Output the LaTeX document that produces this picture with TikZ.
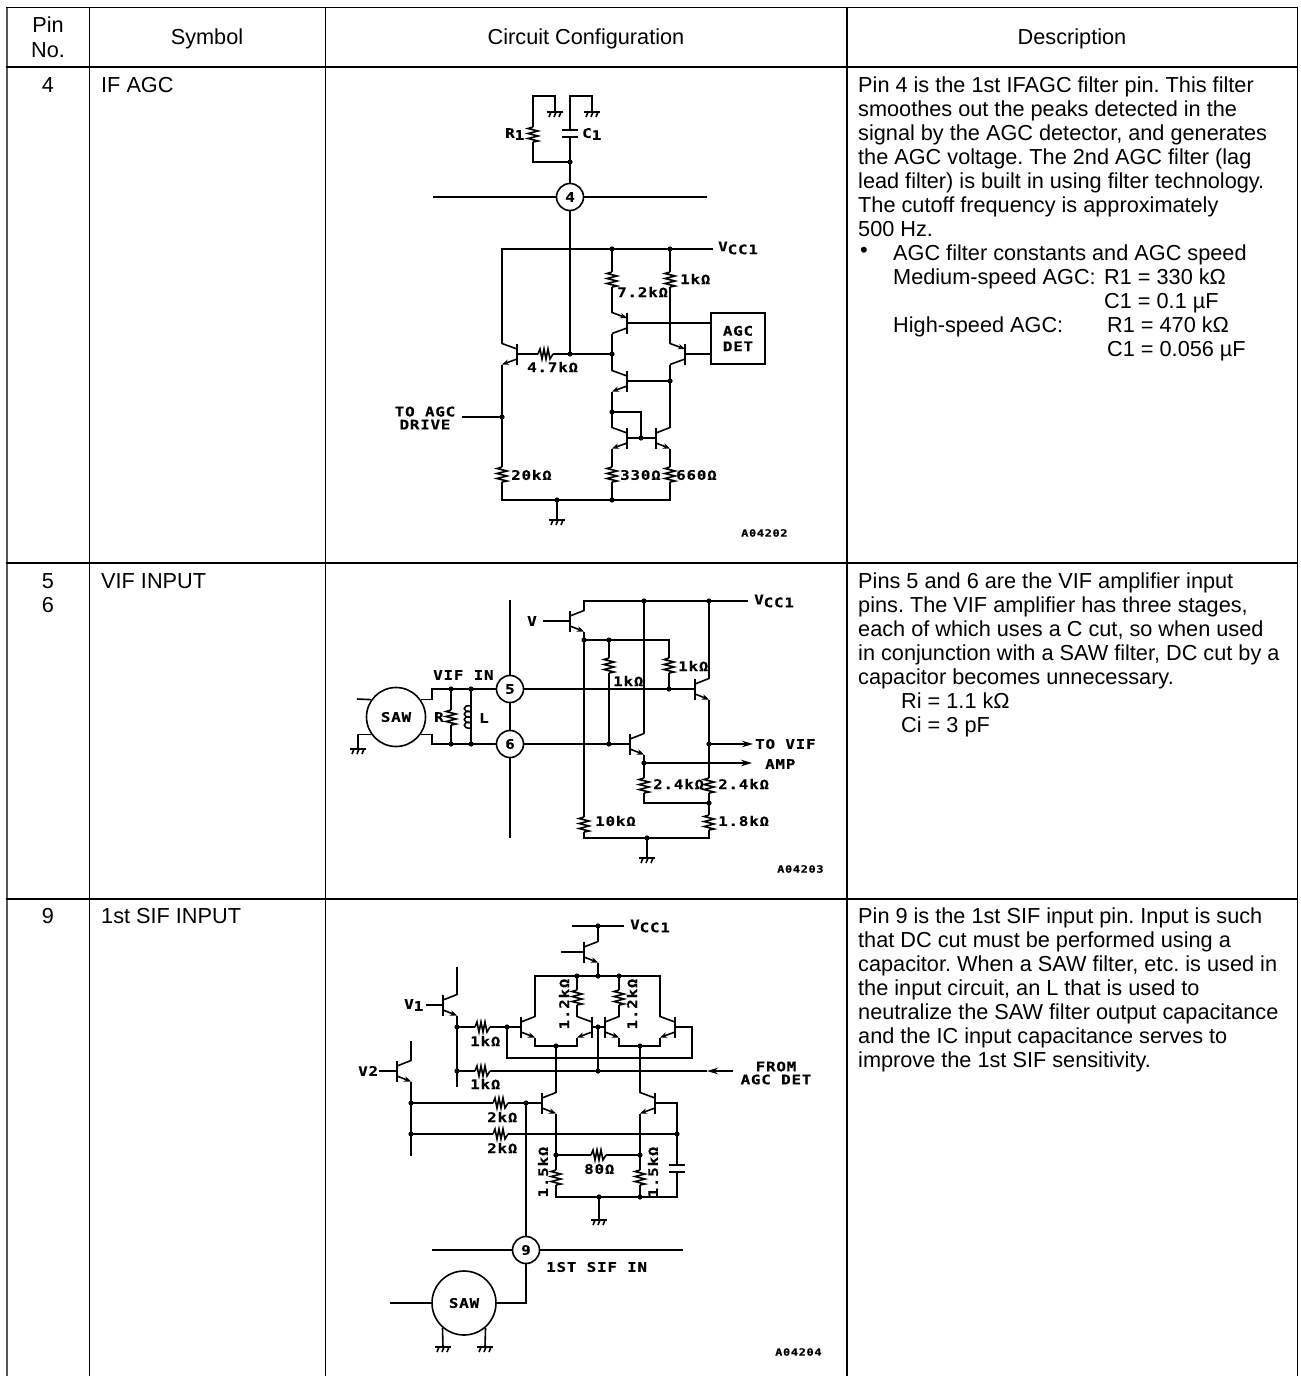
\documentclass[tikz,border=0pt]{standalone}
\usepackage{fontspec}
\usetikzlibrary{arrows.meta}
\setmainfont{Liberation Sans}
\newfontfamily\cktfont[FakeStretch=1.2,LetterSpace=6,FakeBold=0.4]{DejaVu Sans Mono}

\tikzset{
  wire/.style={line width=1.6pt},
  bigtip/.style={>={Stealth[length=11pt,width=6.5pt]}},
  cell/.style={font=\fontsize{21.7}{24}\selectfont,inner sep=0,anchor=base west},
  para/.style={font=\fontsize{21.7}{24}\selectfont,inner sep=0,anchor=north west,align=left},
  head/.style={cell,anchor=base},
  lbl/.style={font=\cktfont\bfseries\fontsize{13.2}{13.5}\selectfont,inner sep=0,anchor=west},
  tag/.style={font=\cktfont\bfseries\fontsize{10}{10}\selectfont,inner sep=0,anchor=west},
  pin/.style={circle,draw,line width=1.6pt,minimum size=27pt,inner sep=0,font=\cktfont\bfseries\fontsize{13.2}{13.5}\selectfont},
  saw/.style={circle,draw,line width=1.6pt,inner sep=0,font=\cktfont\bfseries\fontsize{13.2}{13.5}\selectfont},
  % transistors: origin is the middle of the base bar
  npnr/.pic={
    \draw[line width=2.4pt] (0,-10.5) -- (0,10.5);
    \draw[wire] (0,-5) -- (14,-10.5) coordinate (-c);
    \draw[wire,->] (0,5) -- (14,10.5) coordinate (-e);
    \coordinate (-b) at (0,0);
  },
  npnl/.pic={
    \draw[line width=2.4pt] (0,-10.5) -- (0,10.5);
    \draw[wire] (0,-5) -- (-15,-10.5) coordinate (-c);
    \draw[wire,->] (0,5) -- (-15,10.5) coordinate (-e);
    \coordinate (-b) at (0,0);
  },
  pnpl/.pic={
    \draw[line width=2.4pt] (0,-10.5) -- (0,10.5);
    \draw[wire,<-] (0,-5) -- (-15,-10.5) coordinate (-e);
    \draw[wire] (0,5) -- (-15,10.5) coordinate (-c);
    \coordinate (-b) at (0,0);
  },
  resv/.pic={
    \draw[wire] (0,0) -- (-5,1.5) -- (5,4) -- (-5,6.5) -- (5,9) -- (-5,11.5) -- (5,14) -- (0,15);
  },
  resh/.pic={
    \draw[wire] (0,0) -- (2,-5) -- (4,5) -- (6,-5) -- (8,5) -- (10,-5) -- (12,5) -- (15,0);
  },
  gnd/.pic={
    \draw[line width=1.8pt] (-8,0) -- (8,0);
    \draw[wire] (-4,0) -- (-6,5) (1,0) -- (-1,5) (6,0) -- (4,5);
  },
}

\begin{document}
\begin{tikzpicture}[x=1pt,y=-1pt,>={Stealth[length=7pt,width=5.5pt]}]
\useasboundingbox (0,0) rectangle (1301,1376);
\frenchspacing

% Table rules.
\draw[line width=2.4pt,color=black!65] (7,7) -- (7,1376);
\draw[line width=1.2pt] (6,7.5) -- (1298,7.5);
\draw[line width=1.2pt] (6,67) -- (1298,67);
\draw[line width=1.2pt] (6,563) -- (1298,563);
\draw[line width=1.2pt] (6,899) -- (1298,899);
\draw[line width=1.2pt] (89.5,7) -- (89.5,1376);
\draw[line width=1.2pt] (325.5,7) -- (325.5,1376);
\draw[line width=1.2pt] (847,7) -- (847,1376);
\draw[line width=1.6pt] (1297.5,7) -- (1297.5,1376);

% Header row.
\node[head] (hpin) at (48,32) {Pin};
\node[head] (hno) at (48,57) {No.};
\node[head] (hsym) at (207,44) {Symbol};
\node[head] (hcirc) at (586,44) {Circuit Configuration};
\node[head] (hdesc) at (1072,44) {Description};

% Left columns.
\node[head] (nfour) at (48,92) {4};
\node[cell] (sfour) at (101,92) {IF AGC};
\node[head] (nfive) at (48,588) {5};
\node[head] (nsix) at (48,612) {6};
\node[cell] (sfive) at (101,588) {VIF INPUT};
\node[head] (nnine) at (48,923) {9};
\node[cell] (snine) at (101,923) {1st SIF INPUT};

% Description of pin 4.
\node[para] (dfour) at (858,76.5) {Pin 4 is the 1st IFAGC filter pin. This filter\\
smoothes out the peaks detected in the\\
signal by the AGC detector, and generates\\
the AGC voltage. The 2nd AGC filter (lag\\
lead filter) is built in using filter technology.\\
The cutoff frequency is approximately\\
500 Hz.};
\node[cell,font=\fontsize{22}{22}\selectfont] (dbullet) at (860,257) {•};
\node[cell] (dspeed) at (893,260) {AGC filter constants and AGC speed};
\node[cell] (dmed) at (893,284) {Medium-speed AGC:};
\node[cell] (dmedr) at (1104,284) {R1 = 330 kΩ};
\node[cell] (dmedc) at (1104,308) {C1 = 0.1 µF};
\node[cell] (dhigh) at (893,332) {High-speed AGC:};
\node[cell] (dhighr) at (1107,332) {R1 = 470 kΩ};
\node[cell] (dhighc) at (1107,356) {C1 = 0.056 µF};

% Description of pins 5, 6.
\node[para] (dfive) at (858,572.5) {Pins 5 and 6 are the VIF amplifier input\\
pins. The VIF amplifier has three stages,\\
each of which uses a C cut, so when used\\
in conjunction with a SAW filter, DC cut by a\\
capacitor becomes unnecessary.};
\node[cell] (dri) at (901,708) {Ri = 1.1 kΩ};
\node[cell] (dci) at (901,732) {Ci = 3 pF};

% Description of pin 9.
\node[para] (dnine) at (858,907.5) {Pin 9 is the 1st SIF input pin. Input is such\\
that DC cut must be performed using a\\
capacitor. When a SAW filter, etc. is used in\\
the input circuit, an L that is used to\\
neutralize the SAW filter output capacitance\\
and the IC input capacitance serves to\\
improve the 1st SIF sensitivity.};

% ---- Circuit of pin 4 ----
\node[pin] (pinfour) at (570,197) {4};
\node[draw,line width=1.6pt,minimum width=54pt,minimum height=51pt,inner sep=0,align=center,
  font=\cktfont\bfseries\fontsize{13.2}{15.5}\selectfont] (agcdet) at (738,338.5) {AGC\\DET};

\draw[wire] (433,197) -- (pinfour.west);
\draw[wire] (pinfour.east) -- (707,197);

% filter above the pin
\draw[wire] (pinfour.north) -- (570,137);
\draw[wire] (570,130) -- (570,96) -- (592,96) -- (592,112);
\draw[line width=2.4pt] (562,130) -- (578,130);
\draw[line width=2.4pt] (562,137) -- (578,137);
\draw[wire] (570,162) -- (533,162) -- (533,142);
\draw[wire] (533,127) -- (533,96) -- (555,96) -- (555,112);
\pic at (533,127) {resv};
\pic at (555,112) {gnd};
\pic at (592,112) {gnd};
\node[lbl] (lrone) at (505,134) {R\raisebox{-2pt}{1}};
\node[lbl] (lcone) at (582,134) {C\raisebox{-2pt}{1}};

\draw[wire] (pinfour.south) -- (570,354);

% supply rail
\draw[wire] (713,249) -- (502,249) -- (502,343.5);
\node[lbl] (lvccone) at (718,248) {V\raisebox{-3pt}{CC1}};
\draw[wire] (612,249) -- (612,272);
\draw[wire] (670,249) -- (670,272);
\pic at (612,272) {resv};
\pic at (670,272) {resv};
\node[lbl] (lrsevtwo) at (617,292) {7.2kΩ};
\node[lbl] (lkrone) at (680,279) {1kΩ};

\pic (tupl) at (627,323) {pnpl};
\pic (tupr) at (685,354) {pnpl};
\pic (tin) at (517,354) {npnl};
\pic (tmid) at (627,381) {npnl};
\pic (tmira) at (627,438) {npnl};
\pic (tmirb) at (656,438) {npnr};

\draw[wire] (612,287) -- (tupl-e);
\draw[wire] (670,287) -- (tupr-e);
\draw[wire] (tupl-b) -- (agcdet.west |- tupl-b);
\draw[wire] (tupr-b) -- (agcdet.west |- tupr-b);
\draw[wire] (tupl-c) -- (tmid-c);
\draw[wire] (tmid-e) -- (tmira-c);
\draw[wire] (tmid-b) -- (670,381);
\draw[wire] (tupr-c) -- (tmirb-c);
\draw[wire] (tmira-b) -- (tmirb-b);
\draw[wire] (612,412) -- (641,412) -- (641,438);

% input resistor
\draw[wire] (tin-b) -- (538,354);
\draw[wire] (553,354) -- (612,354);
\pic at (538,354) {resh};
\node[lbl] (lrfour) at (527,367) {4.7kΩ};

% drive and lower resistors
\draw[wire] (tin-e) -- (502,467);
\draw[wire] (462,417) -- (502,417);
\node[lbl,anchor=center,align=center,font=\cktfont\bfseries\fontsize{13.2}{13}\selectfont] (ldrive) at (425,418) {TO AGC\\DRIVE};
\pic at (502,467) {resv};
\pic at (612,467) {resv};
\pic at (670,467) {resv};
\draw[wire] (tmira-e) -- (612,467);
\draw[wire] (tmirb-e) -- (670,467);
\draw[wire] (502,482) -- (502,500) -- (670,500) -- (670,482);
\draw[wire] (612,482) -- (612,500);
\draw[wire] (557,500) -- (557,520);
\pic at (557,520) {gnd};
\node[lbl] (ltwenty) at (511,475) {20kΩ};
\node[lbl] (lthree) at (620,475) {330Ω};
\node[lbl] (lsix) at (676,475) {660Ω};
\node[tag] (tagone) at (741,533) {A04202};

\foreach \p in {(570,162),(612,249),(670,249),(570,354),(612,354),(670,381),(612,412),(641,438),(502,417),(557,500),(612,500)}
  \fill \p circle (2.6);

% ---- Circuit of pins 5, 6 ----
\node[pin] (pinfive) at (510,689) {5};
\node[pin] (pinsix) at (510,744) {6};
\node[saw,minimum size=59pt] (sawtwo) at (396,717) {SAW};

\draw[wire] (510,600) -- (pinfive.north);
\draw[wire] (pinfive.south) -- (pinsix.north);
\draw[wire] (pinsix.south) -- (510,838);
\draw[wire] (357,699) -- (sawtwo.145);
\draw[wire] (sawtwo.215) -| (358,749);
\pic at (358,749) {gnd};
\draw[wire] (sawtwo.35) -| (432,689) -- (pinfive.west);
\draw[wire] (sawtwo.-35) -| (432,744) -- (pinsix.west);
\node[lbl] (lvifin) at (433,675) {VIF IN};

% R and L across the input
\draw[wire] (451,689) -- (451,710);
\draw[wire] (451,725) -- (451,744);
\pic at (451,710) {resv};
\node[lbl] (lr) at (434,717) {R};
\draw[wire] (471,689) -- (471,744);
\foreach \n in {0,...,3}
  \draw[wire] (471,{706+5.5*\n}) .. controls (462,{704+5.5*\n}) and (462,{713+5.5*\n}) .. (471,{711.5+5.5*\n});
\node[lbl] (ll) at (479,718) {L};

\draw[wire] (pinfive.east) -- (681,689);
\draw[wire] (pinsix.east) -- (630,744);

\pic (tv) at (570,621) {npnr};
\pic (tq) at (630,744) {npnr};
\pic (tout) at (695,689) {npnr};
\draw[wire] (681,689) -- (tout-b);

% rail
\draw[wire] (748,601) -- (584,601) -- (tv-c);
\node[lbl] (lvcctwo) at (754,601) {V\raisebox{-3pt}{CC1}};
\node[lbl] (lv) at (527,621) {V};
\draw[wire] (543,621) -- (tv-b);
\draw[wire] (644,601) -- (tq-c);
\draw[wire] (709,601) -- (tout-c);

\draw[wire] (tv-e) -- (584,817);
\draw[wire] (584,640) -- (669,640) -- (669,658);
\draw[wire] (669,673) -- (669,689);
\draw[wire] (609,640) -- (609,658);
\draw[wire] (609,673) -- (609,744);
\pic at (609,658) {resv};
\pic at (669,658) {resv};
\node[lbl] (lkone) at (613,681) {1kΩ};
\node[lbl] (lktwo) at (678,666) {1kΩ};

% outputs and lower resistors
\draw[wire] (tout-e) -- (709,778);
\draw[wire,bigtip,->] (709,744) -- (753,744);
\draw[wire,bigtip,->] (644,763) -- (752,763);
\node[lbl] (ltovif) at (755,744) {TO VIF};
\node[lbl] (lamp) at (765,764) {AMP};
\draw[wire] (tq-e) -- (644,778);
\pic at (644,778) {resv};
\pic at (709,778) {resv};
\draw[wire] (644,793) -- (644,803) -- (709,803) -- (709,793);
\draw[wire] (709,803) -- (709,815);
\pic at (584,817) {resv};
\pic at (709,815) {resv};
\draw[wire] (584,832) -- (584,838) -- (709,838) -- (709,830);
\draw[wire] (647,838) -- (647,858);
\pic at (647,858) {gnd};
\node[lbl] (lktwoa) at (653,784) {2.4kΩ};
\node[lbl] (lktwob) at (718,784) {2.4kΩ};
\node[lbl] (lkten) at (595,821) {10kΩ};
\node[lbl] (lkoneeight) at (718,821) {1.8kΩ};
\node[tag] (tagtwo) at (777,869) {A04203};

\foreach \p in {(451,689),(471,689),(451,744),(471,744),(669,689),(609,744),(584,640),(609,640),(644,601),(709,601),(709,744),(644,763),(709,803),(647,838)}
  \fill \p circle (2.6);

% ---- Circuit of pin 9 ----
\node[pin] (pinnine) at (526,1250) {9};
\node[saw,minimum size=64pt] (sawnine) at (464,1303) {SAW};

\draw[wire] (432,1250) -- (pinnine.west);
\draw[wire] (pinnine.east) -- (683,1250);
\draw[wire] (390,1303) -- (sawnine.west);
\draw[wire] (sawnine.east) -| (pinnine.south);
\draw[wire] (sawnine.229) -- (443,1347);
\draw[wire] (sawnine.311) -- (485,1347);
\pic at (443,1347) {gnd};
\pic at (485,1347) {gnd};
\node[lbl] (lsif) at (546,1267) {1ST SIF IN};
\node[tag] (tagthree) at (775,1352) {A04204};

\pic (ttop) at (584,952) {npnr};
\pic (tvone) at (443,1005) {npnr};
\pic (tvtwo) at (397,1071) {npnr};
\pic (ta) at (521,1027) {npnr};
\pic (tb) at (592,1027) {npnl};
\pic (tc) at (605,1027) {npnr};
\pic (td) at (675,1027) {npnl};
\pic (te) at (542,1103) {npnr};
\pic (tf) at (655,1103) {npnl};

% supply and differential pairs
\draw[wire] (572,926) -- (624,926);
\node[lbl] (lvccthree) at (630,926) {V\raisebox{-3pt}{CC1}};
\draw[wire] (598,926) -- (ttop-c);
\draw[wire] (561,952) -- (ttop-b);
\draw[wire] (ttop-e) -- (598,976);
\draw[wire] (ta-c) -- (535,976) -- (660,976) -- (td-c);
\draw[wire] (577,976) -- (577,990);
\draw[wire] (577,1005) -- (tb-c);
\draw[wire] (619,976) -- (619,990);
\draw[wire] (619,1005) -- (tc-c);
\pic at (577,990) {resv};
\pic at (619,990) {resv};
\node[lbl,rotate=90,anchor=center] (ltwelvea) at (564,1004) {1.2kΩ};
\node[lbl,rotate=90,anchor=center] (ltwelveb) at (632,1004) {1.2kΩ};
\draw[wire] (ta-e) -- (535,1046) -- (577,1046) -- (tb-e);
\draw[wire] (tc-e) -- (619,1046) -- (660,1046) -- (td-e);
\draw[wire] (tb-b) -- (tc-b);
\draw[wire] (598,1027) -- (598,1071);
\draw[wire] (td-b) -- (692,1027) -- (692,1058) -- (507,1058) -- (507,1027);
\draw[wire] (507,1027) -- (ta-b);

% input transistors
\draw[wire] (426,1005) -- (tvone-b);
\node[lbl] (lvone) at (404,1005) {V\raisebox{-2pt}{1}};
\draw[wire] (tvone-c) -- (457,967);
\draw[wire] (tvone-e) -- (457,1087);
\draw[wire] (457,1027) -- (475,1027);
\draw[wire] (490,1027) -- (507,1027);
\pic at (475,1027) {resh};
\node[lbl] (lkinone) at (470,1041) {1kΩ};
\draw[wire] (457,1071) -- (475,1071);
\draw[wire] (490,1071) -- (598,1071) -- (707,1071);
\draw[wire,bigtip,<-] (707,1071) -- (733,1071);
\pic at (475,1071) {resh};
\node[lbl] (lkintwo) at (470,1084) {1kΩ};
\node[lbl,anchor=center,align=center,font=\cktfont\bfseries\fontsize{13.2}{13}\selectfont] (lfromagc) at (776,1073) {FROM\\AGC DET};

\draw[wire] (379,1071) -- (tvtwo-b);
\node[lbl] (lvtwo) at (358,1071) {V2};
\draw[wire] (tvtwo-c) -- (411,1041);
\draw[wire] (tvtwo-e) -- (411,1156);
\draw[wire] (411,1103) -- (493,1103);
\draw[wire] (508,1103) -- (te-b);
\draw[wire] (411,1134) -- (493,1134);
\draw[wire] (508,1134) -- (677,1134);
\pic at (493,1103) {resh};
\pic at (493,1134) {resh};
\node[lbl] (ltwokone) at (487,1117) {2kΩ};
\node[lbl] (ltwoktwo) at (487,1148) {2kΩ};
\draw[wire] (526,1103) -- (pinnine.north);

% emitter resistors
\draw[wire] (556,1046) -- (te-c);
\draw[wire] (640,1046) -- (tf-c);
\draw[wire] (te-e) -- (556,1170);
\draw[wire] (tf-e) -- (640,1170);
\draw[wire] (tf-b) -- (677,1103) -- (677,1165);
\draw[wire] (677,1172) -- (677,1197) -- (556,1197) -- (556,1185);
\draw[wire] (640,1185) -- (640,1197);
\draw[line width=2.4pt] (669,1165) -- (685,1165);
\draw[line width=2.4pt] (669,1172) -- (685,1172);
\draw[wire] (556,1155) -- (591,1155);
\draw[wire] (606,1155) -- (640,1155);
\pic at (591,1155) {resh};
\node[lbl] (lei) at (584,1169) {80Ω};
\pic at (556,1170) {resv};
\pic at (640,1170) {resv};
\node[lbl,rotate=90,anchor=center] (lfivea) at (543,1172) {1.5kΩ};
\node[lbl,rotate=90,anchor=center] (lfiveb) at (653,1172) {1.5kΩ};
\draw[wire] (599,1197) -- (599,1220);
\pic at (599,1220) {gnd};

\foreach \p in {(598,926),(577,976),(598,976),(619,976),(457,1027),(507,1027),(598,1027),(556,1046),(640,1046),(457,1071),(598,1071),(411,1103),(526,1103),(411,1134),(677,1134),(556,1155),(640,1155),(599,1197),(640,1197)}
  \fill \p circle (2.6);

\end{tikzpicture}
\end{document}
